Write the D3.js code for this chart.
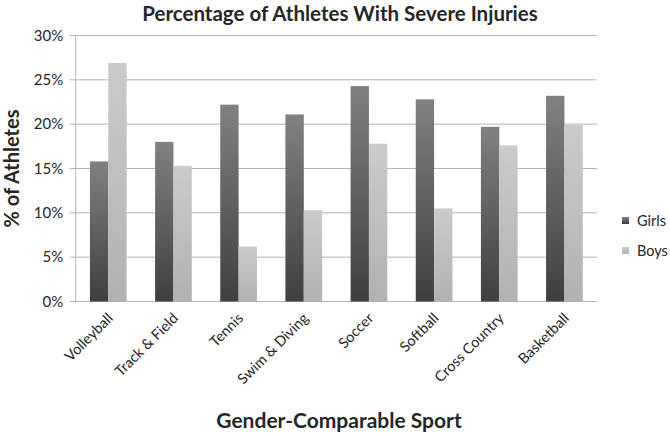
<!DOCTYPE html>
<html>
<head>
<meta charset="utf-8">
<script src="https://cdn.jsdelivr.net/npm/d3@7"></script>
<style>
  body { margin: 0; background: #fff; }
  text { font-family: Lato, "Open Sans", sans-serif; fill: #262626; }
</style>
</head>
<body>
<div id="chart"></div>
<script>
  var sports = ["Volleyball", "Track & Field", "Tennis", "Swim & Diving", "Soccer", "Softball", "Cross Country", "Basketball"];
  var girls = [15.8, 18.0, 22.2, 21.1, 24.3, 22.8, 19.7, 23.2];
  var boys = [26.9, 15.3, 6.2, 10.3, 17.8, 10.5, 17.6, 19.9];
  var seriesNames = ["Girls", "Boys"];
  var yTicks = [0, 5, 10, 15, 20, 25, 30];

  var svgWidth = 670;
  var svgHeight = 433;

  var margin = { top: 35.5, right: 73, bottom: 131.5, left: 75.7 };
  var width = svgWidth - margin.left - margin.right;
  var height = svgHeight - margin.top - margin.bottom;

  var svg = d3.select("#chart")
    .append("svg")
    .attr("width", svgWidth)
    .attr("height", svgHeight);

  var defs = svg.append("defs");
  var grads = [
    { id: "gGirls", top: "#818183", bottom: "#3f3f41" },
    { id: "gBoys", top: "#cbcbcd", bottom: "#b1b1b3" }
  ];
  grads.forEach(function(g) {
    var lg = defs.append("linearGradient")
      .attr("id", g.id)
      .attr("x1", 0).attr("y1", 0).attr("x2", 0).attr("y2", 1);
    lg.append("stop").attr("offset", "0%").attr("stop-color", g.top);
    lg.append("stop").attr("offset", "100%").attr("stop-color", g.bottom);
  });

  var chartGroup = svg.append("g")
    .attr("transform", `translate(${margin.left}, ${margin.top})`);

  var x0 = d3.scaleBand()
    .domain(sports)
    .range([0, width])
    .paddingInner(0.437)
    .paddingOuter(0.2185);

  var x1 = d3.scaleBand()
    .domain(seriesNames)
    .range([0, x0.bandwidth()]);

  var yScale = d3.scaleLinear()
    .domain([0, 30])
    .range([height, 0]);

  // gridlines (with the little tick stubs left of the axis)
  chartGroup.append("g")
    .selectAll("line")
    .data(yTicks)
    .enter()
    .append("line")
    .attr("x1", -6)
    .attr("x2", width)
    .attr("y1", d => yScale(d))
    .attr("y2", d => yScale(d))
    .attr("stroke", "#b3b3b3")
    .attr("stroke-width", 1);

  // left axis line
  chartGroup.append("line")
    .attr("x1", 0).attr("x2", 0)
    .attr("y1", 0).attr("y2", height)
    .attr("stroke", "#b3b3b3");

  // y tick labels
  var leftAxis = d3.axisLeft(yScale)
    .tickValues(yTicks)
    .tickFormat(d => d + "%")
    .tickSize(0)
    .tickPadding(12.5);

  var yAxisG = chartGroup.append("g").call(leftAxis);
  yAxisG.select(".domain").remove();
  yAxisG.selectAll("text")
    .style("font-size", "15px")
    .style("font-family", "Lato, 'Open Sans', sans-serif")
    .attr("fill", "#333");

  // bars
  var data = sports.map(function(s, i) {
    return { sport: s, values: [{ key: "Girls", v: girls[i] }, { key: "Boys", v: boys[i] }] };
  });

  var groups = chartGroup.selectAll(".sport")
    .data(data)
    .enter()
    .append("g")
    .attr("transform", d => `translate(${x0(d.sport)},0)`);

  groups.selectAll("rect")
    .data(d => d.values)
    .enter()
    .append("rect")
    .attr("x", d => x1(d.key))
    .attr("width", x1.bandwidth())
    .attr("y", d => yScale(d.v))
    .attr("height", d => height - yScale(d.v))
    .attr("fill", d => d.key === "Girls" ? "url(#gGirls)" : "url(#gBoys)");

  // x labels
  chartGroup.append("g")
    .selectAll("text")
    .data(sports)
    .enter()
    .append("text")
    .attr("transform", d => `translate(${x0(d) + x0.bandwidth() / 2 + 2}, ${height + 14}) rotate(-45)`)
    .attr("text-anchor", "end")
    .attr("dy", "0.35em")
    .style("font-size", "14.5px")
    .attr("fill", "#333")
    .text(d => d);

  // legend
  var legend = svg.append("g")
    .attr("transform", "translate(622, 0)");
  var legendY = [220.5, 250.5];
  var legendFill = ["url(#gGirls)", "url(#gBoys)"];
  seriesNames.forEach(function(name, i) {
    legend.append("rect")
      .attr("x", 0)
      .attr("y", legendY[i] - 3.5)
      .attr("width", 7)
      .attr("height", 7)
      .attr("fill", legendFill[i]);
    legend.append("text")
      .attr("x", 15)
      .attr("y", legendY[i])
      .attr("dy", "0.35em")
      .style("font-size", "14.5px")
      .attr("fill", "#333")
      .text(name);
  });

  // title
  svg.append("text")
    .attr("x", 340)
    .attr("y", 21)
    .attr("text-anchor", "middle")
    .style("font-size", "20.5px")
    .style("font-weight", "bold")
    .text("Percentage of Athletes With Severe Injuries");

  // axis titles
  svg.append("text")
    .attr("transform", "translate(19, 168.5) rotate(-90)")
    .attr("text-anchor", "middle")
    .style("font-size", "20px")
    .style("font-weight", "bold")
    .text("% of Athletes");

  svg.append("text")
    .attr("x", 339)
    .attr("y", 428)
    .attr("text-anchor", "middle")
    .style("font-size", "21px")
    .style("font-weight", "bold")
    .text("Gender-Comparable Sport");
</script>
</body>
</html>
